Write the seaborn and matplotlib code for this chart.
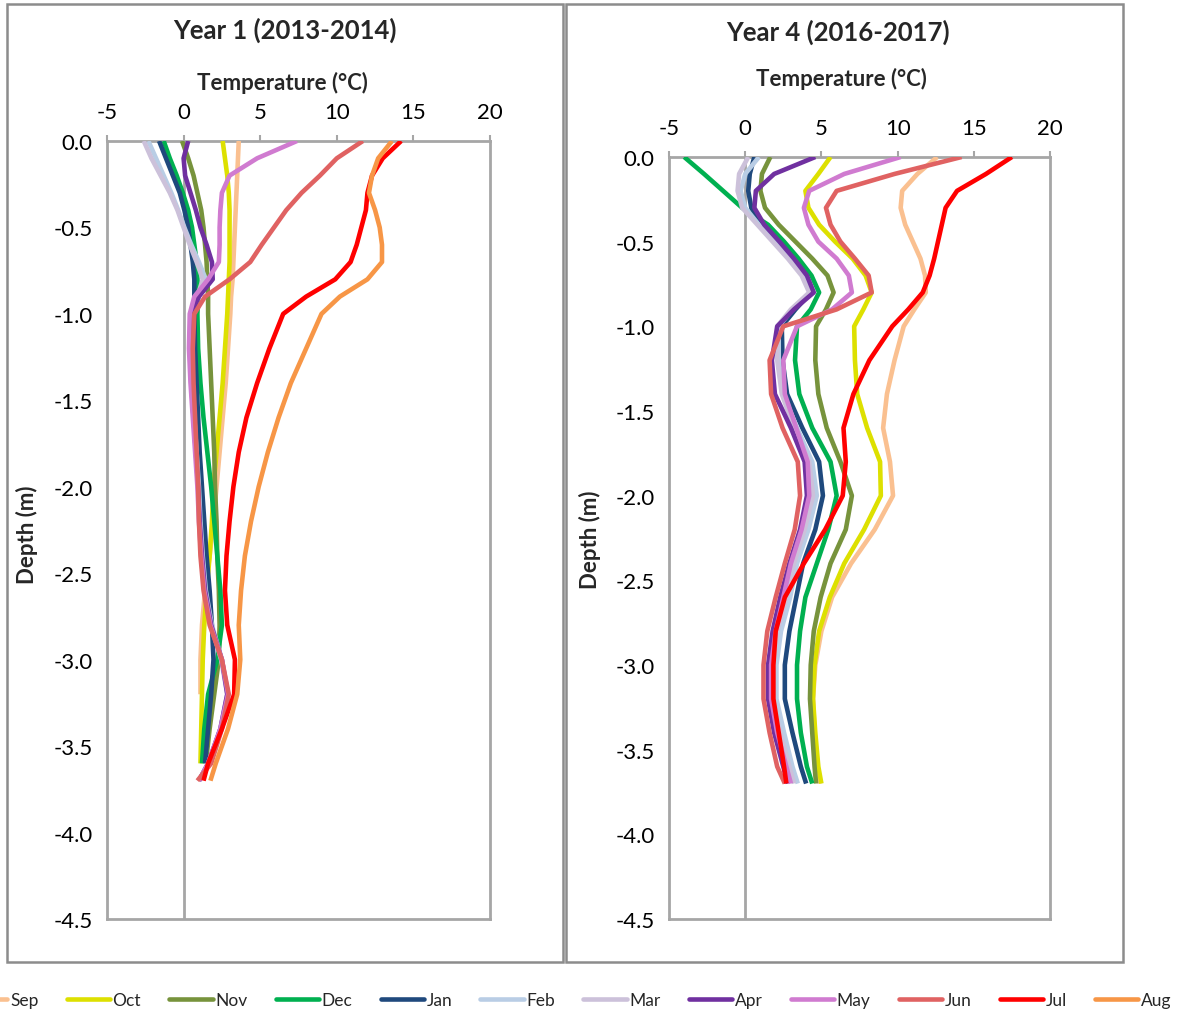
import numpy as np
import pandas as pd
import matplotlib
matplotlib.use("Agg")
import matplotlib.pyplot as plt
from matplotlib.lines import Line2D
from matplotlib.patches import Rectangle
from matplotlib.ticker import FormatStrFormatter, MultipleLocator
import seaborn as sns

nan = np.nan

# Sensor depths (m), shared by both years
depth = [0.0, -0.1, -0.2, -0.3, -0.4, -0.5, -0.6, -0.7, -0.8, -0.9, -1.0, -1.2, -1.4,
         -1.6, -1.8, -2.0, -2.2, -2.4, -2.6, -2.8, -3.0, -3.2, -3.4, -3.6, -3.7]

months = ["Sep", "Oct", "Nov", "Dec", "Jan", "Feb", "Mar", "Apr", "May", "Jun", "Jul", "Aug"]

# Year 1 (2013-2014) monthly mean temperature profiles (deg C)
y1_sep = [3.6, 3.55, 3.5, 3.45, 3.4, 3.35, 3.3, 3.25, 3.2, 3.1, 3.05, 2.9, 2.75, 2.55, 2.35, 2.15, 1.95, 1.7, 1.4, 1.2, 1.1, 1.1, nan, nan, nan]
y1_oct = [2.55, 2.7, 2.85, 2.95, 3.0, 3.0, 3.0, 3.0, 2.95, 2.9, 2.85, 2.7, 2.55, 2.35, 2.15, 1.95, 1.85, 1.7, 1.5, 1.35, 1.25, 1.2, 1.15, 1.1, nan]
y1_nov = [-0.1, 0.3, 0.65, 0.9, 1.15, 1.3, 1.4, 1.5, 1.55, 1.6, 1.6, 1.7, 1.8, 1.9, 2.0, 2.05, 2.15, 2.2, 2.3, 2.35, 2.3, 2.0, 1.7, 1.45, nan]
y1_dec = [-1.3, -0.9, -0.45, -0.05, 0.3, 0.55, 0.7, 0.85, 0.9, 0.95, 0.9, 0.95, 1.1, 1.3, 1.55, 1.8, 2.0, 2.2, 2.4, 2.5, 2.2, 1.6, 1.35, 1.2, nan]
y1_jan = [-1.6, -1.15, -0.7, -0.25, 0.05, 0.3, 0.45, 0.6, 0.7, 0.7, 0.7, 0.75, 0.85, 0.95, 1.05, 1.2, 1.35, 1.5, 1.7, 1.85, 1.95, 1.8, 1.6, 1.4, nan]
y1_feb = [-2.3, -1.8, -1.3, -0.8, -0.35, 0.05, 0.5, 1.0, 1.45, 1.0, 0.5, 0.45, 0.55, 0.7, 0.85, 1.0, 1.1, 1.25, 1.45, 1.85, 2.5, 2.9, 2.45, 1.65, 1.05]
y1_mar = [-2.6, -2.1, -1.5, -0.9, -0.4, 0.0, 0.4, 0.85, 1.25, 0.9, 0.45, 0.4, 0.5, 0.65, 0.8, 0.95, 1.05, 1.2, 1.4, 1.8, 2.45, 2.85, 2.4, 1.6, 1.0]
y1_apr = [0.3, 0.0, 0.1, 0.45, 0.8, 1.1, 1.5, 1.85, 1.9, 1.0, 0.5, 0.45, 0.5, 0.65, 0.8, 0.95, 1.05, 1.2, 1.4, 1.8, 2.5, 2.85, 2.4, 1.6, 1.0]
y1_may = [7.4, 4.8, 3.0, 2.5, 2.4, 2.35, 2.35, 2.3, 1.6, 0.7, 0.4, 0.35, 0.45, 0.6, 0.75, 0.9, 1.0, 1.15, 1.35, 1.75, 2.5, 2.9, 2.4, 1.6, 1.0]
y1_jun = [11.7, 10.0, 8.9, 7.7, 6.7, 5.9, 5.1, 4.35, 3.0, 1.4, 0.7, 0.6, 0.65, 0.75, 0.85, 0.95, 1.0, 1.1, 1.3, 1.7, 2.5, 2.95, 2.5, 1.8, 0.9]
y1_jul = [14.2, 13.0, 12.3, 12.0, 11.9, 11.6, 11.3, 10.9, 9.9, 8.0, 6.5, 5.6, 4.8, 4.1, 3.6, 3.25, 3.0, 2.8, 2.7, 2.85, 3.35, 3.3, 2.5, 1.6, 1.3]
y1_aug = [13.6, 12.7, 12.3, 12.1, 12.5, 12.8, 12.95, 12.95, 12.0, 10.2, 9.0, 8.0, 7.0, 6.2, 5.5, 4.9, 4.4, 4.0, 3.75, 3.6, 3.7, 3.5, 2.9, 2.1, 1.75]

# Year 4 (2016-2017) monthly mean temperature profiles (deg C); no August record
y4_sep = [12.6, 11.3, 10.3, 10.2, 10.5, 11.0, 11.5, 11.8, 11.85, 11.1, 10.4, 9.8, 9.3, 9.05, 9.5, 9.7, 8.5, 6.95, 5.7, 5.0, 4.6, 4.45, 4.55, 4.75, 4.9]
y4_oct = [5.6, 4.8, 3.95, 4.15, 4.85, 5.9, 7.05, 7.9, 8.3, 7.75, 7.15, 7.2, 7.35, 8.0, 8.85, 8.9, 7.8, 6.5, 5.55, 4.85, 4.55, 4.45, 4.6, 4.8, 5.0]
y4_nov = [1.65, 1.1, 1.0, 1.3, 2.2, 3.3, 4.4, 5.4, 5.8, 5.3, 4.65, 4.6, 4.8, 5.35, 6.25, 7.0, 6.6, 5.6, 4.95, 4.5, 4.3, 4.25, 4.4, 4.55, 4.65]
y4_dec = [-4.0, -2.7, -1.45, -0.2, 1.5, 2.55, 3.5, 4.35, 4.85, 4.3, 3.4, 3.27, 3.55, 4.4, 5.6, 6.0, 5.45, 4.7, 3.95, 3.6, 3.4, 3.4, 3.65, 4.05, 4.4]
y4_jan = [0.6, 0.3, 0.2, 0.4, 1.1, 2.1, 3.1, 3.9, 4.3, 3.3, 2.4, 2.45, 2.75, 3.75, 4.85, 5.1, 4.6, 3.8, 3.35, 2.9, 2.6, 2.6, 3.1, 3.65, 4.0]
y4_feb = [0.9, 0.0, -0.3, 0.0, 0.9, 1.9, 2.9, 3.8, 4.3, 3.1, 2.2, 2.2, 2.5, 3.4, 4.4, 4.7, 4.15, 3.4, 2.95, 2.35, 2.05, 2.05, 2.55, 3.1, 3.45]
y4_mar = [0.2, -0.4, -0.5, -0.2, 0.8, 1.8, 2.8, 3.7, 4.2, 3.0, 2.1, 2.1, 2.4, 3.2, 4.2, 4.45, 3.9, 3.2, 2.7, 2.1, 1.8, 1.8, 2.3, 2.9, 3.2]
y4_apr = [4.6, 1.9, 0.7, 0.6, 1.25, 2.25, 3.2, 4.05, 4.5, 3.2, 2.1, 1.75, 1.95, 3.0, 3.9, 4.05, 3.6, 2.9, 2.3, 1.8, 1.5, 1.5, 1.9, 2.5, 2.8]
y4_may = [10.2, 6.5, 4.2, 3.85, 4.15, 4.8, 6.0, 6.8, 7.0, 5.7, 3.4, 2.5, 2.6, 3.35, 4.1, 4.2, 3.7, 3.0, 2.5, 2.0, 1.7, 1.7, 2.1, 2.7, 3.0]
y4_jun = [14.2, 9.8, 6.0, 5.3, 5.6, 6.25, 7.2, 8.1, 8.3, 6.0, 2.5, 1.6, 1.7, 2.45, 3.45, 3.6, 3.25, 2.6, 2.0, 1.45, 1.2, 1.2, 1.6, 2.1, 2.6]
y4_jul = [17.5, 15.8, 13.9, 13.15, 12.9, 12.65, 12.4, 12.1, 11.65, 10.7, 9.65, 8.15, 7.1, 6.45, 6.6, 6.4, 5.25, 3.85, 2.6, 2.0, 1.85, 1.85, 2.2, 2.55, 2.7]
y4_aug = [nan] * len(depth)

month_colors = ["#FAC090", "#DDE000", "#77933C", "#00B050", "#1F497D", "#B9CDE5",
                "#CCC1DA", "#7030A0", "#D07BD0", "#E06262", "#FF0000", "#F79646"]
palette = dict(zip(months, month_colors))

year1 = [y1_sep, y1_oct, y1_nov, y1_dec, y1_jan, y1_feb, y1_mar, y1_apr, y1_may, y1_jun, y1_jul, y1_aug]
year4 = [y4_sep, y4_oct, y4_nov, y4_dec, y4_jan, y4_feb, y4_mar, y4_apr, y4_may, y4_jun, y4_jul, y4_aug]


def profile_frame(series):
    rows = []
    for m, temps in zip(months, series):
        for d, t in zip(depth, temps):
            rows.append({"Month": m, "Depth": d, "Temp": t})
    return pd.DataFrame(rows).dropna()


sns.set_style("white")
plt.rcParams["font.family"] = ["Lato", "DejaVu Sans"]
plt.rcParams["axes.unicode_minus"] = False

W, H = 1178, 1012
fig = plt.figure(figsize=(W / 100, H / 100), dpi=100)

gray = "#A6A6A6"


def fx(px):
    return px / W


def fy(py):
    return 1 - py / H


panels = [
    dict(data=year1, title="Year 1 (2013-2014)", left=107, right=490, top=142, bottom=920,
         title_x=285, title_y=30, lab_x=282, lab_y=83, ylab_x=27, ylab_y=535,
         frame=(7, 5, 563, 963)),
    dict(data=year4, title="Year 4 (2016-2017)", left=669, right=1050, top=158, bottom=920,
         title_x=838, title_y=32, lab_x=841, lab_y=79, ylab_x=590, ylab_y=540,
         frame=(566, 5, 1123, 963)),
]

for p in panels:
    ax = fig.add_axes([fx(p["left"]), fy(p["bottom"]),
                       fx(p["right"] - p["left"]), (p["bottom"] - p["top"]) / H])
    df = profile_frame(p["data"])
    ax.axvline(0, color=gray, lw=2, zorder=1)
    sns.lineplot(data=df, x="Temp", y="Depth", hue="Month", hue_order=months,
                 palette=palette, sort=False, estimator=None, lw=3.3,
                 legend=False, ax=ax, zorder=3)
    for ln in ax.lines:
        ln.set_solid_joinstyle("round")
        ln.set_solid_capstyle("butt")
    ax.set_xlim(-5, 20)
    ax.set_ylim(-4.5, 0)
    ax.xaxis.set_major_locator(MultipleLocator(5))
    ax.yaxis.set_major_locator(MultipleLocator(0.5))
    ax.yaxis.set_major_formatter(FormatStrFormatter("%.1f"))
    ax.xaxis.tick_top()
    ax.set_xlabel("")
    ax.set_ylabel("")
    for s in ax.spines.values():
        s.set_color(gray)
        s.set_linewidth(2)
    ax.tick_params(axis="both", colors=gray, labelcolor="black", labelsize=16,
                   length=4.5, width=1.5, direction="out")
    ax.tick_params(axis="x", pad=9)
    ax.tick_params(axis="y", pad=6)

    fig.text(fx(p["title_x"]), fy(p["title_y"]), p["title"], ha="center", va="center",
             fontsize=18.5, fontweight="bold")
    fig.text(fx(p["lab_x"]), fy(p["lab_y"]), "Temperature (°C)", ha="center", va="center",
             fontsize=16, fontweight="bold")
    fig.text(fx(p["ylab_x"]), fy(p["ylab_y"]), "Depth (m)", ha="center", va="center",
             rotation=90, fontsize=16, fontweight="bold")

    x0, y0, x1, y1 = p["frame"]
    fig.patches.append(Rectangle((fx(x0), fy(y1)), fx(x1 - x0), (y1 - y0) / H,
                                 transform=fig.transFigure, fill=False,
                                 edgecolor="#8C8C8C", lw=1.8))

handles = [Line2D([], [], color=palette[m], lw=3.3) for m in months]
fig.legend(handles, months, loc="center", bbox_to_anchor=(0.482, fy(1001)), ncol=12,
           frameon=False, fontsize=12.5, handlelength=2.5, handletextpad=0.15,
           columnspacing=1.62)

fig.savefig("out.png", dpi=100, facecolor="white")
